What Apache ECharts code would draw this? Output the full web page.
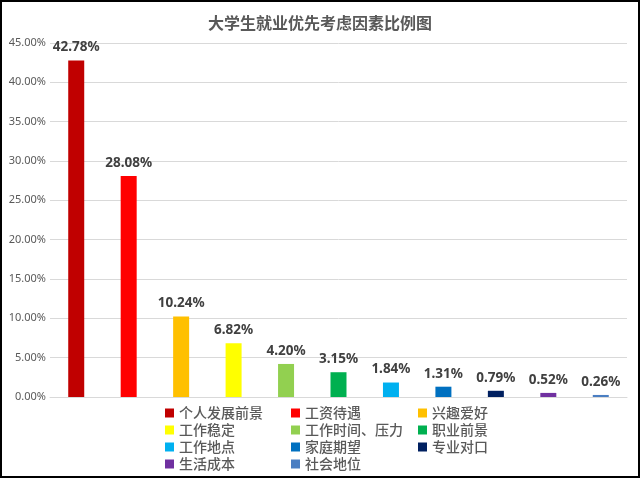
<!DOCTYPE html>
<html><head><meta charset="utf-8">
<script src="https://cdn.jsdelivr.net/npm/echarts@6/dist/echarts.min.js"></script>
<style>
html,body{margin:0;padding:0;background:#fff;}
#c{width:636px;height:474px;border:2px solid #000;}
</style></head>
<body><div id="c"></div>
<script>
var categories = ['个人发展前景','工资待遇','兴趣爱好','工作稳定','工作时间、压力','职业前景','工作地点','家庭期望','专业对口','生活成本','社会地位'];
var values = [42.78, 28.08, 10.24, 6.82, 4.20, 3.15, 1.84, 1.31, 0.79, 0.52, 0.26];
var colors = ['#C00000','#FF0000','#FFC000','#FFFF00','#92D050','#00B050','#00B0F0','#0070C0','#002060','#7030A0','#4A7EC2'];

var chart = echarts.init(document.getElementById('c'));
var series = categories.map(function(name, i){
  var d = categories.map(function(_, j){ return j === i ? values[i] : null; });
  return {
    name: name, type: 'bar', stack: 'all', data: d, barWidth: 16,
    itemStyle: {color: colors[i]},
    label: {show: true, position: 'top', distance: 6, color: '#404040', fontSize: 13.5, fontWeight: 'bold',
      fontFamily: 'Noto Sans', formatter: function(p){ return p.value.toFixed(2) + '%'; }}
  };
});
function legend(names, left){
  return {orient: 'vertical', left: left, top: 399, height: 80, data: names, itemWidth: 9, itemHeight: 9, itemGap: 3,
    icon: 'rect', textStyle: {color: '#595959', fontSize: 14, fontWeight: 500, fontFamily: 'Noto Sans CJK SC', padding: [0,0,0,0]}};
}
chart.setOption({
  animation: false,
  title: {text: '大学生就业优先考虑因素比例图', left: 'center', top: 8,
    textStyle: {color: '#595959', fontSize: 16, fontWeight: 'bold', fontFamily: 'Noto Sans CJK SC'}},
  color: colors,
  legend: [
    legend([categories[0], categories[3], categories[6], categories[9]], 158),
    legend([categories[1], categories[4], categories[7], categories[10]], 284),
    legend([categories[2], categories[5], categories[8]], 411)
  ],
  grid: {left: 48, right: 11, top: 41, bottom: 79},
  xAxis: {type: 'category', data: categories, axisLabel: {show: false}, axisTick: {show: false},
    axisLine: {lineStyle: {color: '#d9d9d9'}}},
  yAxis: {type: 'value', min: 0, max: 45, interval: 5,
    axisLabel: {formatter: function(v){ return v.toFixed(2) + '%'; }, color: '#595959', fontSize: 11, fontFamily: 'Noto Sans', margin: 4},
    splitLine: {lineStyle: {color: '#d9d9d9'}}},
  series: series
});
</script></body></html>
